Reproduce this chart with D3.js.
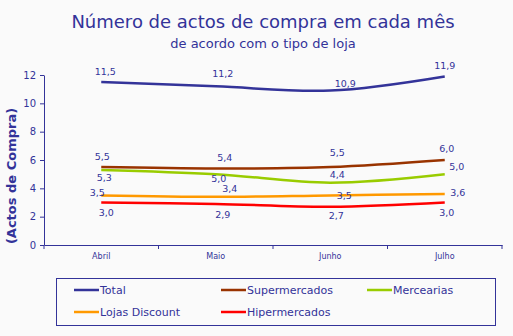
<!DOCTYPE html>
<html>
<head>
<meta charset="utf-8">
<script src="https://cdn.jsdelivr.net/npm/d3@7"></script>
<style>
  html, body { margin: 0; padding: 0; background: #fafafa; }
  svg { display: block; }
  text { font-family: "DejaVu Sans", Verdana, sans-serif; fill: #333399; }
</style>
</head>
<body>
<svg id="chart" width="513" height="336"></svg>
<script>
const months = ["Abril", "Maio", "Junho", "Julho"];
const yTicks = [0, 2, 4, 6, 8, 10, 12];

const seriesNames = ["Total", "Supermercados", "Mercearias", "Lojas Discount", "Hipermercados"];
const total = [11.5, 11.2, 10.9, 11.9];
const supermercados = [5.5, 5.4, 5.5, 6.0];
const mercearias = [5.3, 5.0, 4.4, 5.0];
const lojasDiscount = [3.5, 3.4, 3.5, 3.6];
const hipermercados = [3.0, 2.9, 2.7, 3.0];

const colors = ["#333399", "#993300", "#99cc00", "#ff9900", "#ff0000"];

// label offsets [dx, dy] per point, relative to the point
const labelOffsets = [
  [[4, -10], [7, -13], [15, -7], [0, -11]],
  [[1, -10], [9, -11], [7, -14], [2, -11]],
  [[3, 8], [3, 5], [7, -8], [12, -7]],
  [[-4, -3], [14, -8], [14, 0], [13, -1]],
  [[5, 10], [7, 11], [6, 9], [2, 10]]
];

const seriesValues = [total, supermercados, mercearias, lojasDiscount, hipermercados];

const svg = d3.select("#chart");
const fmt = v => d3.format(".1f")(v).replace(".", ",");

// titles
svg.append("text")
  .attr("x", 263).attr("y", 28)
  .attr("text-anchor", "middle")
  .style("font-size", "18px")
  .text("Número de actos de compra em cada mês");
svg.append("text")
  .attr("x", 263).attr("y", 48)
  .attr("text-anchor", "middle")
  .style("font-size", "13px")
  .text("de acordo com o tipo de loja");

const x = d3.scaleBand().domain(months).range([44, 502]).paddingInner(0);
const y = d3.scaleLinear().domain([0, 12]).range([245, 75]);
const px = m => x(m) + x.bandwidth() / 2;

// y axis
const yAxis = svg.append("g")
  .attr("transform", "translate(44,0)")
  .call(d3.axisLeft(y).tickValues(yTicks).tickSize(4).tickSizeOuter(0).tickPadding(4));
yAxis.select(".domain").attr("stroke", "#333399");
yAxis.selectAll(".tick line").attr("stroke", "#333399");
yAxis.selectAll(".tick text").style("font-size", "10px").attr("fill", "#333399");

// x axis
const xAxis = svg.append("g")
  .attr("transform", "translate(0,245)")
  .call(d3.axisBottom(x).tickSize(0).tickSizeOuter(0).tickPadding(8));
xAxis.select(".domain").attr("stroke", "#333399");
xAxis.selectAll(".tick text").style("font-size", "8px").attr("fill", "#333399");
xAxis.selectAll(".bound")
  .data(months.map(m => x(m)).concat([x.range()[1]]))
  .enter().append("line")
  .attr("x1", d => d).attr("x2", d => d)
  .attr("y1", 0).attr("y2", 4)
  .attr("stroke", "#333399");

// y axis title
svg.append("text")
  .attr("transform", "translate(16,176) rotate(-90)")
  .attr("text-anchor", "middle")
  .style("font-size", "13px")
  .style("font-weight", "bold")
  .text("(Actos de Compra)");

// lines
const line = d3.line()
  .x((d, i) => px(months[i]))
  .y(d => y(d))
  .curve(d3.curveCatmullRom);

const gLines = svg.append("g");
seriesValues.forEach((vals, s) => {
  gLines.append("path")
    .datum(vals)
    .attr("d", line)
    .attr("fill", "none")
    .attr("stroke", colors[s])
    .attr("stroke-width", 2.5);
});

// labels
const gLabels = svg.append("g");
seriesValues.forEach((vals, s) => {
  gLabels.selectAll(null)
    .data(vals)
    .enter().append("text")
    .attr("x", (d, i) => px(months[i]) + labelOffsets[s][i][0])
    .attr("y", (d, i) => y(d) + labelOffsets[s][i][1])
    .attr("dy", "0.35em")
    .attr("text-anchor", "middle")
    .style("font-size", "9.5px")
    .text(d => fmt(d));
});

// legend
const legend = svg.append("g");
legend.append("rect")
  .attr("x", 56.5).attr("y", 278.5)
  .attr("width", 439).attr("height", 47)
  .attr("fill", "none")
  .attr("stroke", "#333399");

const legendCols = [74, 221, 367];
const legendRows = [290, 312];
const items = legend.selectAll(".item")
  .data(seriesNames)
  .enter().append("g")
  .attr("transform", (d, i) => `translate(${legendCols[i % 3]},${legendRows[Math.floor(i / 3)]})`);
items.append("line")
  .attr("x1", 0).attr("x2", 25)
  .attr("y1", 0).attr("y2", 0)
  .attr("stroke", (d, i) => colors[i])
  .attr("stroke-width", 2.5);
items.append("text")
  .attr("x", 26).attr("y", 0)
  .attr("dy", "0.35em")
  .style("font-size", "11px")
  .text(d => d);
</script>
</body>
</html>
